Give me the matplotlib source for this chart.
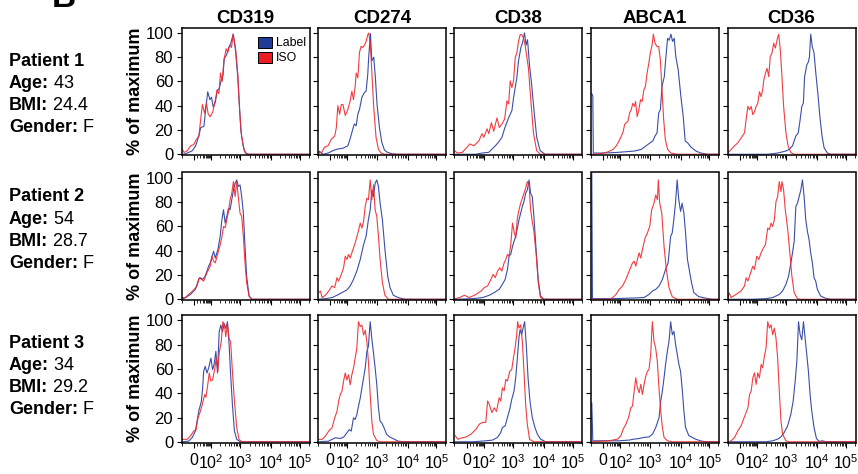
import numpy as np
import matplotlib
matplotlib.use('Agg')
import matplotlib.pyplot as plt
from matplotlib.patches import Rectangle

plt.rcParams['font.family'] = ['Liberation Sans', 'DejaVu Sans']
plt.rcParams['mathtext.fontset'] = 'custom'
plt.rcParams['mathtext.rm'] = 'Liberation Sans'
plt.rcParams['mathtext.it'] = 'Liberation Sans:italic'
plt.rcParams['mathtext.bf'] = 'Liberation Sans:bold'

# ---------------- data ----------------
MARKERS = ['CD319', 'CD274', 'CD38', 'ABCA1', 'CD36']
PATIENTS = ['Patient 1', 'Patient 2', 'Patient 3']
AGES = ['43', '54', '34']
BMIS = ['24.4', '28.7', '29.2']
GENDERS = ['F', 'F', 'F']
Y_TICKS = [0, 20, 40, 60, 80, 100]
X_TICK_LABELS = ['0', r'$10^{2}$', r'$10^{3}$', r'$10^{4}$', r'$10^{5}$']
X_TICK_POS = [9, 22.5, 45.5, 70, 92.5]   # display (logicle) channel of each label

# histograms: (display channel 0-100, % of maximum)
CD319_P1_LABEL = [(0,0),(1,0),(4,1),(8,3),(10.5,7),(13,15),(14.5,22),(17,23),(18.4,37),(20,51.5),(21.7,45),(23,47),(24.3,39),(26,43),(27.5,53),(29,54),(30.6,61),(32,65),(33,79),(34.8,82),(36.6,88),(38,91),(40,99),(41.8,86),(43.6,64),(45,39),(46,20),(47.8,7),(49.6,1),(52,0),(100,0)]
CD319_P1_ISO = [(0,4),(1.4,1.5),(4,3),(6.6,7),(9,8),(11,12),(13,15),(15.8,41),(17.5,34),(19,42),(20.4,33),(22,31),(24,35),(26,45),(27.5,53),(28.8,50),(30,67),(31.4,60),(32.7,77.5),(34.5,87),(35.8,84),(37.4,90),(38.7,88),(40,99),(41.8,88),(43.6,67),(45,37),(46.6,15),(48.7,3),(51,0),(100,0)]
CD274_P1_LABEL = [(0,0),(0.5,2.5),(3.4,0),(7.3,1),(11.2,3),(15,4.4),(19,5),(22.9,7),(25,14),(26.8,21),(28,25),(29.4,23.5),(30.7,33),(32,37),(33.9,47),(35.9,51),(37.2,52),(38.5,66),(39.3,81),(40.6,99.5),(41.7,77),(43.2,80),(44.5,63),(45.8,41),(47.7,22),(49.5,10),(51.6,3.5),(54,1.6),(58,0.3),(62,0),(100,0)]
CD274_P1_ISO = [(0,1.6),(2,1),(4.7,6),(7.3,7),(9.9,12.5),(12.5,15),(13.8,22),(15,40),(16.4,33),(17.7,41),(19,41),(20.8,32),(22.9,37),(24.7,44),(26,52),(27.3,45),(28.6,56),(29.4,67),(30.7,63),(32,84),(33.3,89),(34.6,88),(35.9,90),(37.2,93),(38.5,98.6),(39.3,100),(40.4,92),(41.7,68),(43.2,38.5),(45,14),(46.9,4),(49,1),(51.6,0),(100,0)]
CD38_P1_LABEL = [(0,0),(16,0),(21,1),(26.3,1.6),(29,4.4),(31.5,7),(34,10),(36.7,14),(39,22),(41.9,30),(44.5,36),(45.8,46.5),(47.1,55),(48.4,63),(49.7,77),(51.6,88),(52.9,92),(54.4,100),(55.7,90),(56.8,94.5),(58.3,74),(60,57.7),(61.9,36),(64,14),(66.7,3),(70.6,0),(100,0)]
CD38_P1_ISO = [(0,2.5),(1.6,1),(5.5,1.6),(9.4,6),(11.5,8.5),(14.6,7),(18.5,11),(21,17),(22.4,14),(25,21),(26.3,17),(28.4,26),(30.2,19),(32.8,30),(34.6,22),(36.7,25),(38.8,29),(40.6,44),(41.9,41.5),(43.2,60.5),(44.5,55),(45.8,60.5),(47.1,79.5),(48.4,83.6),(49.7,93),(51,98.6),(52.3,98.6),(53.6,96),(54.9,90),(57.5,71),(59.6,41.5),(61.5,17),(64,3),(66.7,0),(100,0)]
ABCA1_P1_LABEL = [(0,50),(0.8,48),(1.2,1),(2.3,1),(7.5,1),(18,1.4),(25.8,2),(33.6,2.7),(38.8,4),(44,8),(48,11),(49.7,15),(51.3,17.7),(52.6,34),(53.9,36.7),(55.2,56),(57,64),(58.3,80.7),(59.6,95.6),(60.9,94),(62.2,99),(63.5,93),(64.8,95.6),(66,80.7),(67.9,69.8),(70,48),(71.9,31),(73.4,11),(75.3,9.5),(77.9,6),(81.8,2.7),(85.7,1),(90.9,0),(100,0)]
ABCA1_P1_ISO = [(0,0),(7.5,0.5),(12.8,2),(16.7,4),(19.3,7),(21.9,12),(24.5,18),(25.8,24.5),(27,26),(28.4,27),(29.7,34),(31,36.7),(32.3,42),(33.6,39.5),(34.4,43.5),(35.7,31),(37,36.7),(38.3,45),(39.6,43.5),(40.9,53),(42.2,56),(43.5,67),(44.8,75),(46,83.4),(47.4,90),(48.4,99),(49.7,91.5),(51.3,88.8),(52.6,88.8),(53.9,77.9),(55.2,53),(56.5,28.6),(57.8,12.3),(59.6,4),(62.2,1),(67.4,0),(100,0)]
CD36_P1_LABEL = [(0,0),(31,0),(38.8,1),(42.7,2),(45.3,2.7),(47.9,4),(50.5,7),(53.1,15),(55,17.7),(56.5,28.6),(57.8,39.5),(59,42),(60,64),(61.7,73.6),(63,76.3),(63.8,80.4),(64.8,99),(66,88.8),(67.4,83.4),(68.8,67),(70.6,48),(72,31),(73.7,15),(75.3,5.4),(77.9,1),(80.5,0),(100,0)]
CD36_P1_ISO = [(0,1.5),(2.3,4),(4.9,7),(7.6,9.5),(10.2,13.6),(12.8,17.7),(14,28.6),(15.4,39.5),(16.7,36.7),(18,39.5),(19.3,32.6),(20.6,35),(21.9,39.5),(23.2,42),(24.5,51.6),(25.8,47.5),(27,53),(27.9,61),(29.2,66.8),(30.5,70.9),(31.8,64),(33,80.7),(34.4,83.4),(35.7,91.6),(37,87.5),(38.3,94),(39.6,99),(40.9,86),(42.2,64),(43.5,39.5),(45.3,17.7),(47,7),(49.2,1.4),(51.8,0),(100,0)]

CD319_P2_LABEL = [(0,0),(2.5,1.4),(6.4,4),(10.3,8.2),(12.9,16.4),(14.2,17.8),(16,16.4),(18,19),(20.7,27.3),(22,30),(24.6,39.6),(25.9,34),(28,41),(29.8,52),(31,64.5),(32.4,73.8),(33.7,62.8),(35,68.3),(36.3,75),(37.6,73.8),(38.9,82),(40.2,90),(41.5,95.6),(42.8,98.4),(44,93),(45.4,94.3),(46.7,84.7),(48,71),(49.3,43.7),(50.6,19),(52.5,2.7),(54.6,0),(100,0)]
CD319_P2_ISO = [(0,1.4),(2.5,1.4),(5,4),(9,7.7),(11.6,11),(13.4,17.8),(15,16.4),(16.8,15),(19.4,21.9),(22,27.3),(23.3,35.5),(24.6,31.4),(25.9,30),(28,38),(29.8,45),(31,50.5),(32.4,60),(33.7,59),(35,65.6),(36.3,72.4),(37.6,82),(38.9,87.4),(40.2,97),(41.5,84.7),(42.8,97),(44,84.7),(45.4,71),(46.7,68.3),(48,51.9),(49.3,30),(50.6,13.7),(52.5,2.7),(54.6,0),(100,0)]
CD274_P2_LABEL = [(0,0),(5.2,0.5),(10.4,1.4),(14.3,3.3),(18.2,5.5),(22.1,7.7),(24.7,11),(27.3,16.4),(29.9,23.2),(32.6,32.8),(35.2,45),(37.2,52),(39,65.6),(40.4,73.8),(41.7,90),(43,84.7),(44.3,95.6),(45.6,98.4),(46.9,93),(48.2,79.2),(50,65.6),(52,41),(54.2,19),(56,9.6),(58.6,3.3),(62.5,1.4),(67.7,0),(100,0)]
CD274_P2_ISO = [(0,5.5),(1.3,6.8),(2.6,1.4),(5.2,3.3),(7.8,6.8),(10.4,11),(12.5,9.6),(14.3,17.8),(15.6,15),(17.7,20.5),(19.5,26),(20.8,35.5),(22.1,32.8),(23.4,37),(24.7,34),(26,38.3),(28.6,46.4),(30.7,54.6),(32.6,62.8),(33.9,58.7),(35.2,64.2),(36.5,76.5),(37.8,83.3),(39,82),(40.4,98.4),(41.7,82),(43,94.3),(44.3,73.8),(45.6,68.3),(46.9,51.9),(48.2,32.8),(50,13.7),(52,3.3),(54.7,0),(100,0)]
CD38_P2_LABEL = [(0,0),(13.7,0.5),(21.5,1.4),(26.7,3.3),(30.6,5.5),(34.5,8.2),(37,12.3),(39.2,16.4),(41,24.6),(42.3,35.5),(43.6,37),(45,43.7),(46.2,47.8),(47.5,52),(48.8,58.7),(50.1,65.6),(51.4,71),(52.7,76.5),(54,80.6),(55.3,87.4),(56.6,90),(58,98.4),(59.2,87.4),(60.5,84.7),(61.8,68.3),(63.7,38.3),(65.2,16.4),(67,2.7),(69.7,0),(100,0)]
CD38_P2_ISO = [(0,0.5),(3.3,1.4),(7.2,3.3),(11,1.4),(13.7,2.7),(16.3,4),(20.2,6.8),(22.8,9.6),(25.4,11),(28,16.4),(29.8,20.5),(31.4,17.8),(33.2,23.2),(35,26),(36.6,23.2),(38.4,30),(39.7,32.8),(41,37),(42.3,35.5),(43.6,45),(45,62.8),(46.2,56),(47.5,50.5),(48.8,66.9),(50.1,73.8),(51.4,79.2),(52.7,83.3),(54,87.4),(55.3,91.5),(56.6,97),(58,94.3),(59.2,73.8),(60.5,64.2),(61.8,56),(63.7,35.5),(65.2,13.7),(67,1.4),(69.7,0),(100,0)]
ABCA1_P2_LABEL = [(0,105),(0.5,1),(0.8,0.5),(16.4,0.5),(32,1),(41,1.4),(45,4),(47.7,6.8),(50.3,8.2),(52.9,11),(55.5,16.4),(58,24.6),(60,30),(62,52),(63.2,54.6),(64.5,65.6),(65.8,79.2),(67.1,98.4),(68.4,82),(69.8,72.4),(71,79.2),(72.4,71),(73.7,54.6),(75.2,32.8),(76.8,23.2),(78.4,13.7),(80.2,5.5),(84,2.2),(89.3,1),(94.5,0),(100,0)]
ABCA1_P2_ISO = [(0,0),(13.8,0),(16.4,1.4),(19,4),(21.6,8.2),(24.2,11),(26.8,16.4),(29.4,23.2),(32,30),(33.3,31.4),(34.6,27.3),(35.9,32.8),(37.2,38.3),(38.5,34),(39.8,41),(41.9,50.5),(43.7,54.6),(45.6,60.4),(47.1,73.8),(48.9,79.2),(50.3,86),(51.6,82),(52.3,98.4),(53.4,79.2),(55,71),(56.8,43.7),(58.6,24.6),(60.7,9.6),(63.3,2),(67.2,0),(100,0)]
CD36_P2_LABEL = [(0,0),(19,0),(29.7,0.5),(34.9,1.4),(37.5,2.7),(40.1,4),(42.7,6.8),(45.3,12.3),(47.4,19),(49.2,30),(50.5,38.3),(51.8,47.8),(53.1,76.5),(54.4,79.2),(55.7,84.7),(57,90),(58.3,98.4),(59.6,84.7),(60.9,65.6),(62.2,56),(63.5,49.2),(64.8,38.3),(66.1,30),(67.4,17.8),(68.7,15),(70,8.2),(72.6,2.7),(76.6,0.8),(80.5,0),(100,0)]
CD36_P2_ISO = [(0,1),(0.5,5.5),(2.3,1.4),(5,3.3),(7.5,5),(10,6.8),(12.8,11),(14,17.8),(15.4,15),(16.7,19),(18,23.2),(19.3,27.3),(20.6,24.6),(22.4,35.5),(24,32.8),(25.8,38.3),(27.6,42.3),(29.2,45),(31,58.7),(32.3,57.4),(33.6,62.8),(34.9,60),(36.2,65.6),(37.5,80.6),(38.8,84.7),(40.1,97),(41.4,88.8),(42.2,97),(43.5,90),(44.8,73.8),(46.6,58.7),(48.4,38.3),(50,19),(51.8,5.5),(54.4,0.5),(57,0),(100,0)]

CD319_P3_LABEL = [(0,0),(5,0.5),(7.7,3.3),(10.3,8.8),(11.6,17),(12.9,25),(15,33.4),(16,44.4),(16.8,58),(18,62.2),(19.4,56.7),(20.7,60.8),(22.5,69),(23.8,59.5),(25,63.6),(26.4,74.6),(27.7,56.7),(29,90.7),(30.3,96.2),(31.6,90.7),(32.9,97.5),(34.2,93.4),(35.5,99),(36.8,80),(38,55.6),(39.4,30.7),(41,8.8),(42.8,2),(45.6,0),(100,0)]
CD319_P3_ISO = [(0,2),(3.8,2),(6.4,4.7),(9,8.8),(10.8,10),(12.4,19.7),(14.2,25),(16,32),(17.6,39),(18.6,36.7),(20.2,48.5),(21.2,56.7),(22.5,50),(23.8,51),(25.4,59.5),(26.7,69),(28,58),(29,73),(30.6,82.5),(31.9,99),(33.2,96),(34.2,86.6),(35.5,97.5),(36.8,85),(38,82.5),(39.4,58),(41,33.4),(42.8,11.5),(44.6,2),(46.7,0),(100,0)]
CD274_P3_LABEL = [(0,0),(7.8,0.5),(10.4,2),(13,3.3),(16.9,2.7),(19.5,3.8),(22.1,7.4),(23.9,10),(25.5,8.8),(27.3,19.7),(28.6,18.4),(29.9,22.4),(31.2,29.3),(32.6,36),(33.9,44.4),(35.2,52.6),(36.5,60.8),(37.8,74.6),(39,78.6),(40.4,99),(41.7,85),(43,73.3),(44.3,60.8),(45.6,47),(46.9,28),(48.2,17),(49.5,15.6),(51.3,11.5),(53.4,6),(56,3.8),(58.6,2.5),(62.5,0.5),(67.7,0),(100,0)]
CD274_P3_ISO = [(0,2),(2.6,2),(5.2,4.7),(7.8,8.8),(10.4,11.5),(12.5,19.7),(14.3,25),(15.6,33.4),(16.9,39),(18.2,41.6),(19.5,50),(20.8,56.7),(22.1,51),(23.4,55.3),(24.7,47),(26,55.3),(27.3,60.8),(28.6,69),(29.9,77),(31.2,99),(32.6,95),(33.9,96.2),(35.2,88),(36.5,92),(37.8,82.5),(39,66.3),(40.4,39),(41.7,17),(43,6),(45.6,1),(48.2,0),(100,0)]
CD38_P3_LABEL = [(0,0),(13.7,0),(24,0.8),(29.3,1.4),(33.2,3.6),(35.8,7.7),(37,11.8),(39.2,13),(41,20),(42.8,26.8),(44.4,35),(46.2,42),(47.5,52.7),(48.8,69),(50,85.5),(50.9,92.3),(52.2,88.2),(53.3,93.7),(54.5,99),(55.8,80),(57.2,52.7),(58.7,33.6),(60.5,20),(62.6,11.8),(64.5,6.3),(67,2.2),(71,0),(100,0)]
CD38_P3_ISO = [(0,5),(2,2),(4.6,3),(8.5,4),(12.4,6.3),(16.3,10.4),(18.9,14.5),(21.5,16),(24,16),(25.4,33.6),(26.7,31),(28.8,24),(30.6,28),(32.4,25),(34.5,36.3),(35.8,33.6),(37,44.5),(38.4,42),(39.7,51.4),(41,50),(42.8,58),(44.4,59.6),(45.7,69),(47,77.3),(48.3,88.2),(49,99),(50,93.7),(51.4,96.4),(52.7,82.8),(54,58),(55.3,31),(56.6,14.5),(58.4,2),(61.8,0),(100,0)]
ABCA1_P3_LABEL = [(0,32),(0.8,0.8),(8.6,0.8),(21.6,0.8),(29.4,1.4),(33.3,2.2),(37.2,2.7),(41,3.6),(45,4),(47.7,6.3),(50.3,11.8),(52.9,20),(54.2,33.6),(55.5,41.8),(56.8,52.7),(58,63.7),(59.4,74.6),(60.7,82.8),(62,99),(63.3,88.2),(64.6,91),(65.9,80),(67.2,72),(68.5,63.7),(69.8,58),(71,44.5),(72.4,25.4),(73.7,11.8),(76.3,5),(79,3.6),(81.5,2.2),(85.4,0.8),(89.3,0),(100,0)]
ABCA1_P3_ISO = [(0,0),(13.8,0.8),(16.4,1.4),(20.3,2.2),(22.9,5),(24.7,10.4),(26.8,14.5),(28.9,20),(30.7,28),(32,29.5),(33.3,41.8),(34.6,52.7),(35.9,44.5),(37.2,40.4),(38.5,47.3),(39.8,39),(41.1,47.3),(42.4,54),(43.7,58),(45,59.6),(46.3,72),(47.6,99),(48.9,82.8),(50.2,77.3),(51.5,66.4),(52.8,44.5),(54.2,25.4),(55.5,11.8),(56.8,3.6),(59.4,0.8),(63.3,0),(100,0)]
CD36_P3_LABEL = [(0,0),(29.7,0),(34.9,0.8),(38.8,2.2),(41.4,4),(44,7.7),(46.6,13),(49.2,22.7),(51,33.6),(52.6,50),(53.9,66.4),(55.2,99),(56.5,88.2),(57.8,84),(59.1,99),(60.4,85.5),(61.7,72),(63,58),(64.3,39),(65.6,25.4),(67.4,11.8),(69.3,2.7),(71.4,0.3),(74,0.8),(76.6,0),(100,0)]
CD36_P3_ISO = [(0,0),(2.3,0.8),(5,3.6),(7.5,9),(10,13),(12,18.6),(13.5,22.7),(15.4,28),(16.7,39),(18,41.8),(19.3,52.7),(20.6,56.8),(21.9,47.3),(23.2,56.8),(24.5,52.7),(25.8,63.7),(27,61),(28.4,70.5),(29.7,77.3),(31,99),(32.3,93.7),(33.6,96.4),(34.9,88.2),(36.2,93.7),(37.5,85.5),(38.8,69),(40.1,41.8),(41.4,17.2),(42.7,6.3),(45.3,0.8),(47.9,0),(100,0)]

LABEL_CURVES = [
    [CD319_P1_LABEL, CD274_P1_LABEL, CD38_P1_LABEL, ABCA1_P1_LABEL, CD36_P1_LABEL],
    [CD319_P2_LABEL, CD274_P2_LABEL, CD38_P2_LABEL, ABCA1_P2_LABEL, CD36_P2_LABEL],
    [CD319_P3_LABEL, CD274_P3_LABEL, CD38_P3_LABEL, ABCA1_P3_LABEL, CD36_P3_LABEL],
]
ISO_CURVES = [
    [CD319_P1_ISO, CD274_P1_ISO, CD38_P1_ISO, ABCA1_P1_ISO, CD36_P1_ISO],
    [CD319_P2_ISO, CD274_P2_ISO, CD38_P2_ISO, ABCA1_P2_ISO, CD36_P2_ISO],
    [CD319_P3_ISO, CD274_P3_ISO, CD38_P3_ISO, ABCA1_P3_ISO, CD36_P3_ISO],
]

# ---------------- style / layout ----------------
BLUE_LINE = '#3a4eaa'
RED_LINE = '#f0282d'
BLUE_BOX = '#1f3c96'
RED_BOX = '#ec1c24'

W, H = 858, 474
COL_LEFT = [181.5, 318, 454.5, 591, 727.5]
ROW_TOP = [27.5, 172.5, 315]
PW, PH = 128, 127.5
YTOP = 100 * PH / 122.0

fig = plt.figure(figsize=(W / 100, H / 100), dpi=100)

# minor tick positions on the logicle-like axis
dec_pos = X_TICK_POS[1:]
minor = []
for p0, p1 in zip(dec_pos[:-1], dec_pos[1:]):
    for k in range(2, 10):
        minor.append(p0 + np.log10(k) * (p1 - p0))
minor.append(dec_pos[-1] + np.log10(2) * (dec_pos[-1] - dec_pos[-2]))
for v in [-50, 10, 20, 30, 40, 50, 60, 70, 80, 90]:
    minor.append(X_TICK_POS[0] + (X_TICK_POS[1] - X_TICK_POS[0]) * np.arcsinh(v / 20.0) / np.arcsinh(100 / 20.0))

axes = []
for r in range(3):
    for c in range(5):
        ax = fig.add_axes([COL_LEFT[c] / W, 1 - (ROW_TOP[r] + PH) / H, PW / W, PH / H])
        lab = np.array(LABEL_CURVES[r][c])
        iso = np.array(ISO_CURVES[r][c])
        ax.plot(lab[:, 0], lab[:, 1], color=BLUE_LINE, lw=0.8, clip_on=True)
        ax.plot(iso[:, 0], iso[:, 1], color=RED_LINE, lw=0.8, alpha=0.9, clip_on=True)
        ax.set_xlim(0, 100)
        ax.set_ylim(-0.6, YTOP)
        ax.set_yticks(Y_TICKS)
        ax.set_xticks(X_TICK_POS)
        ax.set_xticks(minor, minor=True)
        ax.tick_params(axis='both', which='major', direction='out', length=3.5, width=0.8,
                       labelsize=12, pad=2.5, colors='black')
        ax.tick_params(axis='x', which='major', pad=4)
        ax.tick_params(axis='x', which='minor', direction='out', length=2, width=0.6)
        if c == 0:
            ax.set_yticklabels([str(v) for v in Y_TICKS])
            ax.set_ylabel('% of maximum', fontsize=13, fontweight='bold', labelpad=1)
        else:
            ax.set_yticklabels([])
        if r == 2:
            ax.set_xticklabels(X_TICK_LABELS, fontsize=11.5)
        else:
            ax.set_xticklabels([])
        if r == 0:
            ax.set_title(MARKERS[c], fontsize=13.5, fontweight='bold', pad=3)
        for s in ax.spines.values():
            s.set_linewidth(1.1)
        axes.append(ax)

# legend in first panel
ax0 = axes[0]
for (txt, col, ytop) in [('Label', BLUE_BOX, 0.925), ('ISO', RED_BOX, 0.807)]:
    ax0.add_patch(Rectangle((0.598, ytop - 0.088), 0.112, 0.088, transform=ax0.transAxes,
                            facecolor=col, edgecolor='black', lw=0.7, clip_on=False))
    ax0.text(0.735, ytop - 0.044, txt, transform=ax0.transAxes, fontsize=8.8,
             va='center', ha='left')

# patient info blocks
renderer = fig.canvas.get_renderer()
ROW_TEXT_Y = [[61, 83, 105, 127], [197, 219, 241, 263], [343, 365, 387, 409]]
for r in range(3):
    ys = ROW_TEXT_Y[r]
    fig.text(9 / W, 1 - ys[0] / H, PATIENTS[r], fontsize=13, fontweight='bold', va='center')
    for (lbl, val, y) in [('Age:', AGES[r], ys[1]), ('BMI:', BMIS[r], ys[2]), ('Gender:', GENDERS[r], ys[3])]:
        t = fig.text(9 / W, 1 - y / H, lbl, fontsize=13, fontweight='bold', va='center')
        bb = t.get_window_extent(renderer)
        fig.text(bb.x1 / W, 1 - y / H, ' ' + val, fontsize=13, va='center')

# panel letter, cut off at top as in the source figure
fig.text(52 / W, 1 - 7 / H, 'B', fontsize=24, fontweight='bold', va='baseline', ha='left')

fig.savefig('out.png', dpi=100)
